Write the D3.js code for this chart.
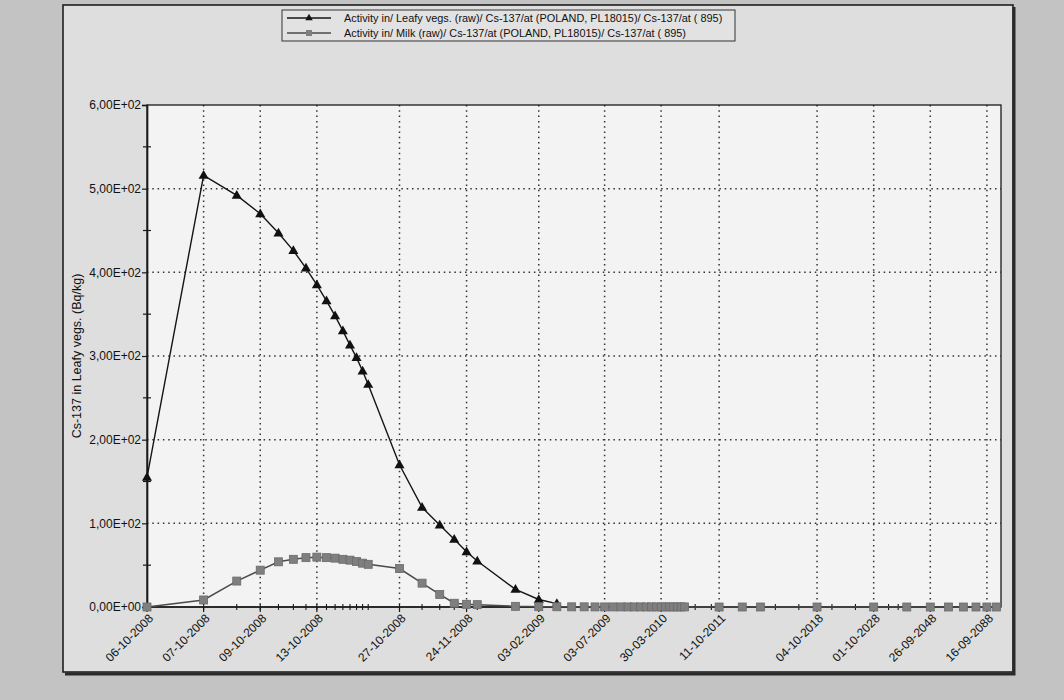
<!DOCTYPE html>
<html>
<head>
<meta charset="utf-8">
<script src="https://cdn.jsdelivr.net/npm/d3@7/dist/d3.min.js"></script>
<style>
  html, body { margin: 0; padding: 0; background: #c4c4c4; }
  svg { display: block; font-family: "Liberation Sans", Arial, sans-serif; }
</style>
</head>
<body>
<svg id="chart" width="1064" height="700"></svg>
<script>
// ---------------- DATA ----------------
const startDate = "06-10-2008";
const tickLabels = ["06-10-2008","07-10-2008","09-10-2008","13-10-2008","27-10-2008","24-11-2008",
  "03-02-2009","03-07-2009","30-03-2010","11-10-2011","04-10-2018","01-10-2028","26-09-2048","16-09-2088"];

// days after 06-10-2008
const leafyDays   = [0,1,2,3,4,5,6,7,8,9,10,11,12,13,14,21,28,35,42,49,56,90,120,150];
const leafyValues = [155,516,492,470,447,426,405,385,366,348,330,313,298,282,266,170,119,98,81,66,55,21,9,4];

const milkDays   = [0,1,2,3,4,5,6,7,8,9,10,11,12,13,14,21,28,35,42,49,56,90,120,150,180,210,240,270,300,
  330,360,390,420,450,480,510,540,570,600,630,660,690,720,1100,1460,1825,3650,7300,10950,14600,18250,21900,25550,29200,32850];
const milkValues = [0,8.4,31,44,54,57,59,59.6,59,58.4,57,56,54.4,52.4,51,46,28.5,15,4.5,3.2,2.8,0.8,0.4,0.3,0.2,0.2,0.1,0.1,0.1,
  0.1,0.1,0.1,0.1,0.1,0.1,0.1,0.1,0.1,0.1,0.1,0.1,0.1,0.1,0,0,0,0,0,0,0,0,0,0,0,0];

// extra minor tick days on the time axis (where no marker is drawn)
const extraMinorDays = [820, 1000, 2190, 2920, 4380, 5840, 8760, 9855];

const yTicks = [0,100,200,300,400,500,600];
const yMinorTicks = [50,150,250,350,450,550];

const seriesNames = [
  "Activity in/ Leafy vegs. (raw)/ Cs-137/at (POLAND, PL18015)/ Cs-137/at ( 895)",
  "Activity in/ Milk (raw)/ Cs-137/at (POLAND, PL18015)/ Cs-137/at ( 895)"
];
const yAxisTitle = "Cs-137 in Leafy vegs. (Bq/kg)";

// ---------------- LAYOUT ----------------
const svg = d3.select("#chart");
const W = 1064, H = 700;
const plot = {left: 147, right: 1001, top: 105, bottom: 607};
const ink = "#111";

const parse = d3.utcParse("%d-%m-%Y");
const t0 = parse(startDate);
const dayOf = s => d3.utcDay.count(t0, parse(s));

const x = d3.scaleLog().domain([1, 34700]).range([plot.left, plot.right]);
const xd = d => x(d + 1);
const y = d3.scaleLinear().domain([0, 600]).range([plot.bottom, plot.top]);

const fmtE = v => {
  const [m, e] = v.toExponential(2).split("e");
  const ev = Math.abs(+e);
  return m.replace(".", ",") + "E" + (+e < 0 ? "-" : "+") + (ev < 10 ? "0" + ev : ev);
};

// backgrounds
svg.append("rect").attr("width", W).attr("height", H).attr("fill", "#c3c3c3");
svg.append("rect").attr("x", 63).attr("y", 5).attr("width", 950).attr("height", 667)
  .attr("fill", "#dedede").attr("stroke", "#1e1e1e").attr("stroke-width", 1.6);
svg.append("path").attr("d", `M1014,7V674H65`).attr("fill", "none")
  .attr("stroke", "#2a2a2a").attr("stroke-width", 3);
svg.append("rect").attr("x", plot.left).attr("y", plot.top)
  .attr("width", plot.right - plot.left).attr("height", plot.bottom - plot.top)
  .attr("fill", "#f3f3f3");

// grid
const g = svg.append("g");
g.selectAll("line.hg").data(yTicks.filter(v => v > 0 && v < 600)).join("line")
  .attr("x1", plot.left).attr("x2", plot.right)
  .attr("y1", d => y(d)).attr("y2", d => y(d))
  .attr("stroke", "#333").attr("stroke-width", 1.5).attr("stroke-dasharray", "1.5,3.8");
const tickDays = tickLabels.map(dayOf);
g.selectAll("line.vg").data(tickDays.filter(d => d > 0)).join("line")
  .attr("x1", d => xd(d)).attr("x2", d => xd(d))
  .attr("y1", plot.top).attr("y2", plot.bottom)
  .attr("stroke", "#333").attr("stroke-width", 1.5).attr("stroke-dasharray", "1.5,3.8");

// frame
svg.append("rect").attr("x", plot.left).attr("y", plot.top)
  .attr("width", plot.right - plot.left).attr("height", plot.bottom - plot.top)
  .attr("fill", "none").attr("stroke", "#1a1a1a").attr("stroke-width", 1.3);

// y axis
const yAxis = d3.axisLeft(y).tickValues(yTicks).tickFormat(fmtE).tickSize(5).tickPadding(1);
const ya = svg.append("g").attr("transform", `translate(${plot.left},0)`).call(yAxis);
ya.select(".domain").attr("stroke", "#1a1a1a").attr("stroke-width", 1.7);
ya.selectAll(".tick line").attr("stroke", "#1a1a1a").attr("stroke-width", 1.2);
ya.selectAll("text").attr("font-size", 12).attr("fill", ink)
  .attr("font-family", "Liberation Sans, Arial, sans-serif");
svg.append("g").selectAll("line").data(yMinorTicks).join("line")
  .attr("x1", plot.left - 4).attr("x2", plot.left + 4)
  .attr("y1", d => y(d)).attr("y2", d => y(d))
  .attr("stroke", "#1a1a1a").attr("stroke-width", 1.2);

svg.append("text").attr("transform", `translate(81,${(plot.top + plot.bottom) / 2}) rotate(-90)`)
  .attr("text-anchor", "middle").attr("font-size", 12.5).attr("fill", ink)
  .text(yAxisTitle);

// x axis
const xa = svg.append("g").attr("transform", `translate(0,${plot.bottom})`);
xa.append("line").attr("x1", plot.left).attr("x2", plot.right)
  .attr("stroke", "#1a1a1a").attr("stroke-width", 1.7);
const minorDays = Array.from(new Set([...leafyDays, ...milkDays, ...extraMinorDays])).filter(d => d > 0);
xa.selectAll("line.mt").data(minorDays).join("line")
  .attr("x1", d => xd(d)).attr("x2", d => xd(d)).attr("y1", -3).attr("y2", 3)
  .attr("stroke", "#1a1a1a").attr("stroke-width", 1.1);
xa.selectAll("line.Mt").data(tickDays).join("line")
  .attr("x1", d => xd(d)).attr("x2", d => xd(d)).attr("y1", 0).attr("y2", 5)
  .attr("stroke", "#1a1a1a").attr("stroke-width", 1.2);
xa.selectAll("text").data(tickLabels).join("text")
  .attr("transform", d => `translate(${xd(dayOf(d)) + 4},${9}) rotate(-45)`)
  .attr("text-anchor", "end").attr("dy", "0.35em")
  .attr("font-size", 12).attr("fill", ink).text(d => d);

// series
const leafy = leafyDays.map((d, i) => ({d, v: leafyValues[i]}));
const milk = milkDays.map((d, i) => ({d, v: milkValues[i]}));
const line = d3.line().x(p => xd(p.d)).y(p => y(p.v));

svg.append("path").datum(leafy).attr("d", line).attr("fill", "none")
  .attr("stroke", "#151515").attr("stroke-width", 1.4);
const tri = d3.symbol().type(d3.symbolTriangle).size(44);
svg.append("g").selectAll("path").data(leafy).join("path")
  .attr("d", tri).attr("transform", p => `translate(${xd(p.d)},${y(p.v) + 0.5})`)
  .attr("fill", "#111");

svg.append("path").datum(milk).attr("d", line).attr("fill", "none")
  .attr("stroke", "#4a4a4a").attr("stroke-width", 1.5);
svg.append("g").selectAll("rect").data(milk).join("rect")
  .attr("x", p => xd(p.d) - 4).attr("y", p => y(p.v) - 4)
  .attr("width", 8).attr("height", 8)
  .attr("fill", "#7f7f7f").attr("stroke", "#6a6a6a").attr("stroke-width", 0.8);

// legend
const lg = svg.append("g");
lg.append("rect").attr("x", 282).attr("y", 10).attr("width", 453).attr("height", 31)
  .attr("fill", "#e2e2e2").attr("stroke", "#333").attr("stroke-width", 1);
const legendRows = [{name: seriesNames[0], sym: "tri", color: "#151515"},
                    {name: seriesNames[1], sym: "sq", color: "#4a4a4a"}];
legendRows.forEach((r, i) => {
  const cy = 18 + i * 15;
  lg.append("line").attr("x1", 287).attr("x2", 331).attr("y1", cy).attr("y2", cy)
    .attr("stroke", r.color).attr("stroke-width", 1.4);
  if (r.sym === "tri") {
    lg.append("path").attr("d", d3.symbol().type(d3.symbolTriangle).size(24))
      .attr("transform", `translate(309,${cy})`).attr("fill", "#111");
  } else {
    lg.append("rect").attr("x", 306).attr("y", cy - 3).attr("width", 6).attr("height", 6)
      .attr("fill", "#7f7f7f");
  }
  lg.append("text").attr("x", 344).attr("y", cy).attr("dy", "0.35em")
    .attr("font-size", 10.9).attr("fill", ink).text(r.name);
});
</script>
</body>
</html>
